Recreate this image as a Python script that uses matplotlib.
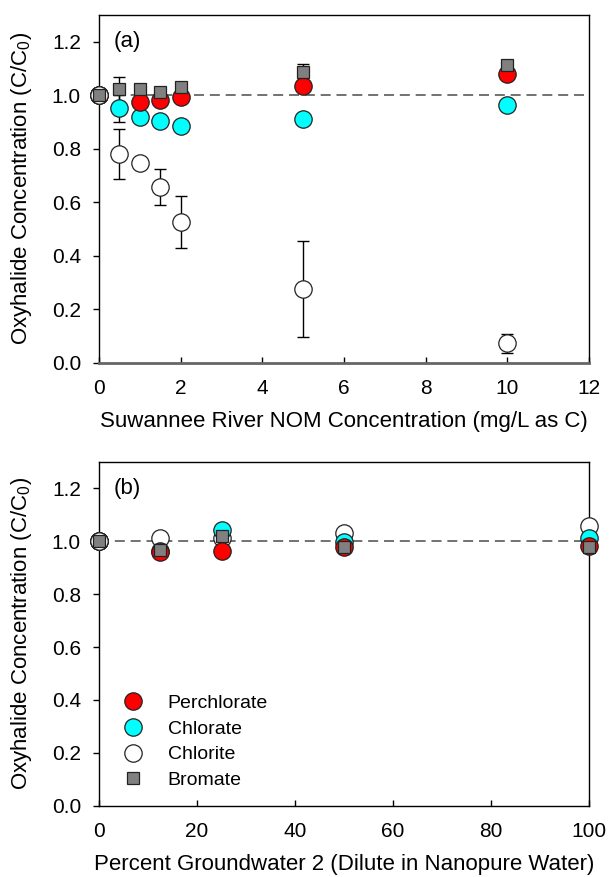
import numpy as np
import matplotlib
matplotlib.use("Agg")
import matplotlib.pyplot as plt
from matplotlib.lines import Line2D

plt.rcParams['font.family'] = ['Liberation Sans', 'DejaVu Sans']
plt.rcParams['mathtext.fontset'] = 'custom'
plt.rcParams['mathtext.rm'] = 'Liberation Sans'
plt.rcParams['mathtext.it'] = 'Liberation Sans'

# panel (a): NOM concentration (mg/L as C)
nom = [0, 0.5, 1, 1.5, 2, 5, 10]
a_perchlorate = [1.0, np.nan, 0.975, 0.981, 0.994, 1.034, 1.079]
a_chlorate = [1.0, 0.950, 0.919, 0.904, 0.884, 0.909, 0.963]
a_chlorate_err = [0, 0.05, 0, 0, 0, 0, 0]
a_chlorite = [1.0, 0.78, 0.747, 0.657, 0.526, 0.276, 0.072]
a_chlorite_err = [0, 0.095, 0, 0.066, 0.098, 0.178, 0.035]
a_bromate = [1.0, 1.021, 1.022, 1.012, 1.032, 1.087, 1.113]
a_bromate_err = [0, 0.045, 0, 0, 0.01, 0.03, 0]

# panel (b): percent groundwater 2
pct = [0, 12.5, 25, 50, 100]
b_perchlorate = [1.0, 0.959, 0.962, 0.978, 0.982]
b_chlorate = [1.0, 0.965, 1.042, 0.998, 1.012]
b_chlorite = [1.0, 1.012, 1.012, 1.030, 1.058]
b_bromate = [1.0, 0.966, 1.020, 0.978, 0.980]

names = ['Perchlorate', 'Chlorate', 'Chlorite', 'Bromate']
face = ['#ff0000', '#00ffff', '#ffffff', '#808080']
mk = ['o', 'o', 'o', 's']
msz = [12.5, 12.5, 12.5, 8.5]
zord = [5, 4, 3, 6]

fig = plt.figure(figsize=(6.15, 8.77), dpi=100)
ax_a = fig.add_axes([0.161, 0.5864, 0.797, 0.3967])
ax_b = fig.add_axes([0.161, 0.0813, 0.797, 0.3920])


def style(ax, xmax, xticks, xlabel, tag):
    ax.set_xlim(0, xmax)
    ax.set_ylim(0, 1.3)
    ax.set_xticks(xticks)
    ax.set_yticks(np.arange(0, 1.21, 0.2))
    ax.set_yticklabels(['%.1f' % v for v in np.arange(0, 1.21, 0.2)])
    ax.tick_params(axis='y', direction='out', length=4, width=1, labelsize=15, pad=9)
    ax.tick_params(axis='x', direction='in', length=4, width=1, labelsize=15, pad=12)
    ax.set_xlabel(xlabel, fontsize=16, labelpad=9)
    ax.set_ylabel('Oxyhalide Concentration (C/C$_0$)', fontsize=16, labelpad=13)
    ax.axhline(1.0, color='#5a5a5a', lw=1.2, dashes=(6, 3.5), zorder=1)
    ax.text(0.03, 0.922, tag, transform=ax.transAxes, fontsize=16, va='center')
    for s in ax.spines.values():
        s.set_linewidth(1)


def draw(ax, xs, series, errs):
    for vals, err, fc, m, ms, z in zip(series, errs, face, mk, msz, zord):
        if err is not None:
            ax.errorbar(xs, vals, yerr=err, fmt='none', ecolor='black',
                        elinewidth=1, capsize=4.3, capthick=1, zorder=2, clip_on=False)
        ax.plot(xs, vals, ls='none', marker=m, ms=ms, mfc=fc, mec='#222222',
                mew=0.9, zorder=z, clip_on=False)
    # at the C0 reference point the chlorite circle sits above the others
    ax.plot(xs[:1], series[2][:1], ls='none', marker='o', ms=12.5, mfc='white',
            mec='#222222', mew=0.9, zorder=5.5, clip_on=False)


draw(ax_a, nom, [a_perchlorate, a_chlorate, a_chlorite, a_bromate],
     [None, a_chlorate_err, a_chlorite_err, a_bromate_err])
draw(ax_b, pct, [b_perchlorate, b_chlorate, b_chlorite, b_bromate],
     [None, None, None, None])

style(ax_a, 12, range(0, 13, 2), 'Suwannee River NOM Concentration (mg/L as C)', '(a)')
style(ax_b, 100, range(0, 101, 20), 'Percent Groundwater 2 (Dilute in Nanopure Water)', '(b)')
ax_a.spines['bottom'].set_color('#666666')
ax_a.spines['bottom'].set_linewidth(2)

handles = [Line2D([], [], ls='none', marker=m, ms=ms, mfc=fc, mec='#222222', mew=0.9)
           for m, ms, fc in zip(mk, msz, face)]
ax_b.legend(handles, names, loc='lower left', bbox_to_anchor=(0.025, 0.02),
            frameon=False, fontsize=14, handlelength=1.2, handletextpad=1.2,
            labelspacing=0.42, borderpad=0)

fig.savefig('out.png', dpi=100)
